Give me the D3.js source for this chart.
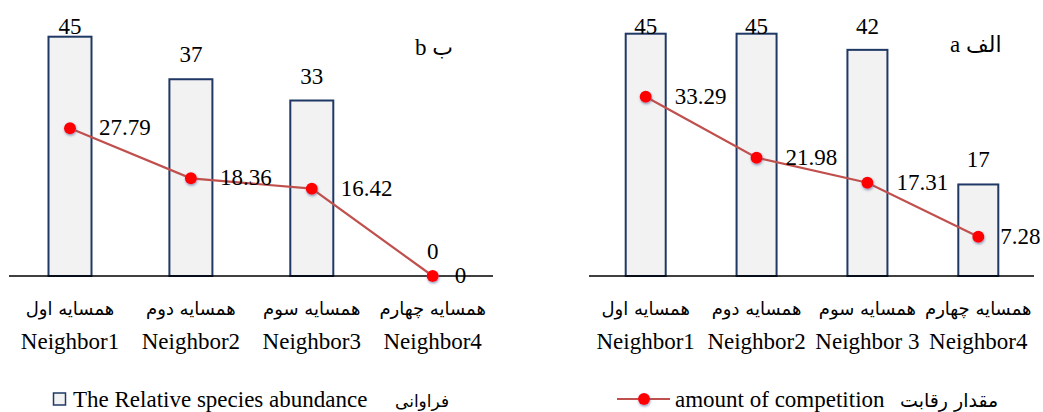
<!DOCTYPE html>
<html>
<head>
<meta charset="utf-8">
<script src="https://cdn.jsdelivr.net/npm/d3@7"></script>
<style>
  body { margin: 0; background: #fff; }
</style>
</head>
<body>
<div id="chart"></div>
<script>
// Chart data
const categoriesFa = ["همسایه اول", "همسایه دوم", "همسایه سوم", "همسایه چهارم"];
const categoriesEnA = ["Neighbor1", "Neighbor2", "Neighbor 3", "Neighbor4"];
const categoriesEnB = ["Neighbor1", "Neighbor2", "Neighbor3", "Neighbor4"];

const abundanceA = [45, 45, 42, 17];
const competitionA = [33.29, 21.98, 17.31, 7.28];
const abundanceB = [45, 37, 33, 0];
const competitionB = [27.79, 18.36, 16.42, 0];

const W = 1043, H = 412;
const barFill = "#f2f2f2", barStroke = "#1f3864";
const lineColor = "#c0504d", markerColor = "#ff0000";
const serifFont = "'Liberation Serif', 'Times New Roman', Times, 'DejaVu Serif', serif";
const arabicFont = "'DejaVu Sans', sans-serif";

const svg = d3.select("#chart").append("svg")
    .attr("width", W)
    .attr("height", H)
    .attr("font-family", serifFont)
    .style("display", "block");

// soft shadow behind the markers
const defs = svg.append("defs");
const f = defs.append("filter").attr("id", "shadow")
    .attr("x", "-60%").attr("y", "-60%").attr("width", "220%").attr("height", "220%");
f.append("feDropShadow").attr("dx", 0.5).attr("dy", 1.5).attr("stdDeviation", 1.3)
    .attr("flood-color", "#4a5a8a").attr("flood-opacity", 0.6);

function drawPanel(opt) {
    const g = svg.append("g");
    const idx = d3.range(opt.abundance.length);

    const x = d3.scalePoint().domain(idx).range(opt.xRange);
    const y = d3.scaleLinear().domain([0, 45]).range([276, opt.yTop]);
    const bw = opt.barWidth;

    // bars
    g.selectAll(".bar")
        .data(idx.filter(i => opt.abundance[i] > 0))
        .enter().append("rect")
        .attr("x", i => x(i) - bw / 2)
        .attr("y", i => y(opt.abundance[i]))
        .attr("width", bw)
        .attr("height", i => y(0) - y(opt.abundance[i]))
        .attr("fill", barFill)
        .attr("stroke", barStroke)
        .attr("stroke-width", 2);

    // baseline
    g.append("line")
        .attr("x1", opt.axisX[0]).attr("x2", opt.axisX[1])
        .attr("y1", y(0)).attr("y2", y(0))
        .attr("stroke", "#000").attr("stroke-width", 1.6);

    // bar value labels (kept inside the top margin)
    g.selectAll(".blabel")
        .data(idx)
        .enter().append("text")
        .attr("x", i => x(i))
        .attr("y", i => Math.max(y(opt.abundance[i]) - 17, 34))
        .attr("text-anchor", "middle")
        .attr("font-size", 23)
        .text(i => opt.abundance[i]);

    // competition line
    const line = d3.line().x(i => x(i)).y(i => y(opt.competition[i]));
    g.append("path")
        .datum(idx)
        .attr("d", line)
        .attr("fill", "none")
        .attr("stroke", lineColor)
        .attr("stroke-width", 2.2);

    g.selectAll(".marker")
        .data(idx)
        .enter().append("circle")
        .attr("cx", i => x(i))
        .attr("cy", i => y(opt.competition[i]))
        .attr("r", 6)
        .attr("fill", markerColor)
        .attr("filter", "url(#shadow)");

    g.selectAll(".llabel")
        .data(idx)
        .enter().append("text")
        .attr("x", i => x(i) + (i === idx.length - 1 ? 22 : 29))
        .attr("y", i => y(opt.competition[i]) - 1)
        .attr("dy", "0.35em")
        .attr("font-size", 23)
        .text(i => opt.competition[i]);

    // category labels, Persian above English
    g.selectAll(".catfa")
        .data(idx)
        .enter().append("text")
        .attr("x", i => x(i))
        .attr("y", 315)
        .attr("text-anchor", "middle")
        .attr("font-family", arabicFont)
        .attr("font-size", 18)
        .text(i => categoriesFa[i]);

    g.selectAll(".caten")
        .data(idx)
        .enter().append("text")
        .attr("x", i => x(i))
        .attr("y", 349)
        .attr("text-anchor", "middle")
        .attr("font-size", 23)
        .text(i => opt.categoriesEn[i]);

    // panel tag
    const tag = g.append("text")
        .attr("x", opt.tagX)
        .attr("y", opt.tagY)
        .attr("font-size", 23);
    tag.append("tspan").text(opt.tag[0] + " ");
    tag.append("tspan").attr("font-family", arabicFont).attr("font-size", 22).text(opt.tag[1]);

    return g;
}

drawPanel({
    abundance: abundanceB, competition: competitionB, categoriesEn: categoriesEnB,
    xRange: [70, 432.7], yTop: 36.7, barWidth: 43, axisX: [9, 493],
    tag: ["b", "ب"], tagX: 415, tagY: 55
});

drawPanel({
    abundance: abundanceA, competition: competitionA, categoriesEn: categoriesEnA,
    xRange: [645.7, 978.3], yTop: 33.7, barWidth: 40, axisX: [589, 1034],
    tag: ["a", "الف"], tagX: 950, tagY: 52
});

// legends
const legB = svg.append("g").attr("transform", "translate(53,399)");
legB.append("rect")
    .attr("x", 0.5).attr("y", -6)
    .attr("width", 12).attr("height", 12)
    .attr("fill", barFill).attr("stroke", barStroke).attr("stroke-width", 1.5);
legB.append("text").attr("x", 20).attr("y", 8).attr("font-size", 23)
    .text("The Relative species abundance");
legB.append("text").attr("x", 342).attr("y", 8)
    .attr("font-family", arabicFont).attr("font-size", 17)
    .text("فراوانی");

const legA = svg.append("g").attr("transform", "translate(617,399)");
legA.append("line")
    .attr("x1", 0).attr("x2", 53)
    .attr("stroke", lineColor).attr("stroke-width", 2.2);
legA.append("circle")
    .attr("cx", 27).attr("r", 6)
    .attr("fill", markerColor).attr("filter", "url(#shadow)");
legA.append("text").attr("x", 58).attr("y", 8).attr("font-size", 23)
    .text("amount of competition");
legA.append("text").attr("x", 283).attr("y", 8)
    .attr("font-family", arabicFont).attr("font-size", 19)
    .text("مقدار رقابت");
</script>
</body>
</html>
